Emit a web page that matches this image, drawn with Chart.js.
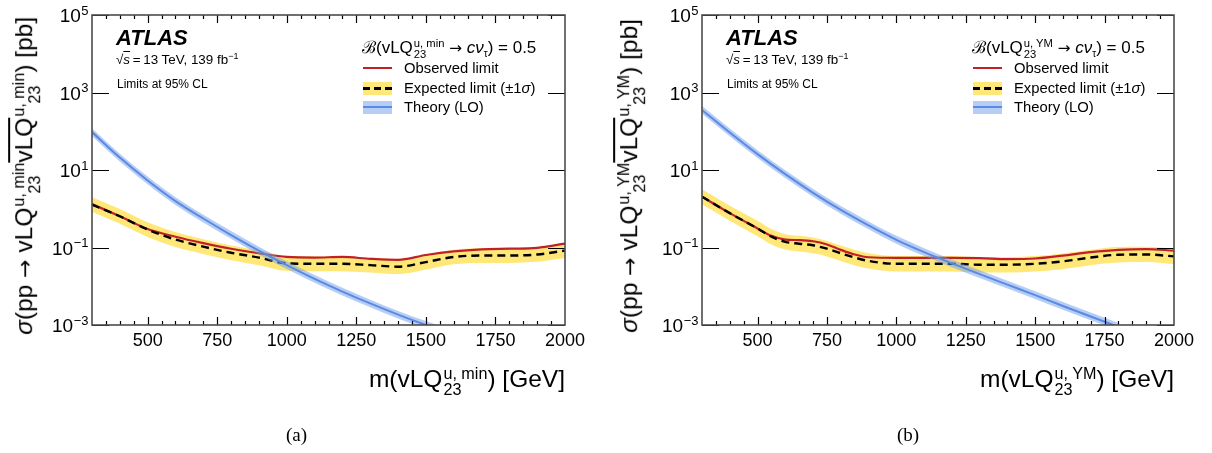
<!DOCTYPE html>
<html>
<head>
<meta charset="utf-8">
<script src="https://cdn.jsdelivr.net/npm/chart.js@4.4.1/dist/chart.umd.min.js"></script>
<style>
body { margin:0; width:1212px; height:453px; background:#fff; position:relative; overflow:hidden;
       font-family:"Liberation Sans", Arial, sans-serif; color:#000; }
canvas { position:absolute; top:0; }
.txt { position:absolute; white-space:nowrap; line-height:1; z-index:2; }
.atlas { font-size:22px; font-weight:bold; font-style:italic; }
.ss { display:inline-flex; flex-direction:column; font-size:0.66em; line-height:0.98; vertical-align:0.5em; margin-left:1px; }
.ov { text-decoration:overline; }
.arr { font-family:"DejaVu Sans", sans-serif; font-size:0.9em; }
.row { position:absolute; height:16px; display:flex; align-items:center; font-size:14.8px; white-space:nowrap; z-index:2; }
.sw { width:29px; height:13px; margin-right:12px; position:relative; }
.sw i { position:absolute; left:0; right:0; top:50%; }
.ytitle { position:absolute; width:340px; text-align:center; font-size:24.5px; line-height:26px; white-space:nowrap;
          transform:rotate(-90deg); z-index:2; }
.xtitle { position:absolute; font-size:24.5px; line-height:26px; white-space:nowrap; z-index:2; }
.cap { position:absolute; font-family:"Liberation Serif", "Times New Roman", serif; font-size:19px; z-index:2; }
</style>
</head>
<body>
<canvas id="chartA" width="600" height="453" style="left:0"></canvas>
<canvas id="chartB" width="606" height="453" style="left:606px"></canvas>

<!-- panel (a) labels -->
<div class="txt atlas" style="left:116px;top:27px">ATLAS</div>
<div class="txt" style="left:116px;top:52px;font-size:13.4px">√<span class="ov"><i>s</i></span>&thinsp;=&thinsp;13 TeV, 139 fb<sup style="font-size:9px">−1</sup></div>
<div class="txt" style="left:117px;top:78px;font-size:12px">Limits at 95% CL</div>
<div class="txt" style="left:362px;top:38px;font-size:17px">ℬ(vLQ<span class="ss"><span>u, min</span><span>23</span></span> <span class="arr">→</span> <i>cν</i><sub style="font-size:10px">τ</sub>) = 0.5</div>
<div class="row" style="left:363px;top:60px"><div class="sw"><i style="height:2px;margin-top:-1px;background:rgb(192,32,38)"></i></div>Observed limit</div>
<div class="row" style="left:363px;top:80px"><div class="sw" style="background:rgb(255,231,120)"><i style="height:3px;margin-top:-1.5px;background:repeating-linear-gradient(90deg,#000 0 7px,transparent 7px 11px)"></i></div>Expected limit (±1<i>σ</i>)</div>
<div class="row" style="left:363px;top:99px"><div class="sw" style="background:rgba(110,155,235,0.5)"><i style="height:2px;margin-top:-1px;background:rgb(90,138,228)"></i></div>Theory (LO)</div>
<div class="ytitle" style="left:-143px;top:160px"><i>σ</i>(pp <span class="arr">→</span> vLQ<span class="ss"><span>u, min</span><span>23</span></span><span class="ov">vLQ</span><span class="ss"><span>u, min</span><span>23</span></span>) [pb]</div>
<div class="xtitle" style="right:647px;top:366px">m(vLQ<span class="ss"><span>u, min</span><span>23</span></span>) [GeV]</div>
<div class="cap" style="left:286px;top:424px">(a)</div>

<!-- panel (b) labels -->
<div class="txt atlas" style="left:726px;top:27px">ATLAS</div>
<div class="txt" style="left:726px;top:52px;font-size:13.4px">√<span class="ov"><i>s</i></span>&thinsp;=&thinsp;13 TeV, 139 fb<sup style="font-size:9px">−1</sup></div>
<div class="txt" style="left:727px;top:78px;font-size:12px">Limits at 95% CL</div>
<div class="txt" style="left:972px;top:38px;font-size:17px">ℬ(vLQ<span class="ss"><span>u, YM</span><span>23</span></span> <span class="arr">→</span> <i>cν</i><sub style="font-size:10px">τ</sub>) = 0.5</div>
<div class="row" style="left:973px;top:60px"><div class="sw"><i style="height:2px;margin-top:-1px;background:rgb(192,32,38)"></i></div>Observed limit</div>
<div class="row" style="left:973px;top:80px"><div class="sw" style="background:rgb(255,231,120)"><i style="height:3px;margin-top:-1.5px;background:repeating-linear-gradient(90deg,#000 0 7px,transparent 7px 11px)"></i></div>Expected limit (±1<i>σ</i>)</div>
<div class="row" style="left:973px;top:99px"><div class="sw" style="background:rgba(110,155,235,0.5)"><i style="height:2px;margin-top:-1px;background:rgb(90,138,228)"></i></div>Theory (LO)</div>
<div class="ytitle" style="left:462px;top:160px"><i>σ</i>(pp <span class="arr">→</span> vLQ<span class="ss"><span>u, YM</span><span>23</span></span><span class="ov">vLQ</span><span class="ss"><span>u, YM</span><span>23</span></span>) [pb]</div>
<div class="xtitle" style="right:38px;top:366px">m(vLQ<span class="ss"><span>u, YM</span><span>23</span></span>) [GeV]</div>
<div class="cap" style="left:897px;top:424px">(b)</div>

<script>
// ---- panel (a): vLQ u,min ----
const massA = [300, 400, 500, 600, 700, 800, 900, 1000, 1100, 1200, 1300, 1400, 1500, 1600, 1700, 1800, 1900, 2000]
const obsA = [1.32, 0.64, 0.30, 0.19, 0.13, 0.093, 0.071, 0.057, 0.055, 0.057, 0.051, 0.048, 0.064, 0.079, 0.089, 0.093, 0.098, 0.126]
const expA = [1.27, 0.64, 0.29, 0.16, 0.105, 0.073, 0.055, 0.039, 0.038, 0.038, 0.035, 0.032, 0.042, 0.057, 0.062, 0.062, 0.066, 0.083]
const expUpA = [1.97, 0.99, 0.45, 0.25, 0.163, 0.113, 0.085, 0.060, 0.059, 0.059, 0.054, 0.050, 0.065, 0.088, 0.096, 0.096, 0.102, 0.129]
const expDnA = [0.82, 0.41, 0.187, 0.103, 0.068, 0.047, 0.035, 0.025, 0.0245, 0.0245, 0.0226, 0.0206, 0.027, 0.037, 0.040, 0.040, 0.0426, 0.0535]
const massThA = [300, 400, 500, 600, 700, 800, 900, 1000, 1100, 1200, 1300, 1400, 1500, 1600]
const theoryA = [95.5, 20.9, 5.37, 1.58, 0.56, 0.21, 0.083, 0.035, 0.0155, 0.0073, 0.0036, 0.00185, 0.001, 0.00057]
const theoryUpA = [120, 26.3, 6.77, 1.99, 0.705, 0.265, 0.105, 0.044, 0.0195, 0.0092, 0.0045, 0.0023, 0.00126, 0.00072]
const theoryDnA = [75.8, 16.6, 4.26, 1.25, 0.444, 0.167, 0.066, 0.0278, 0.0123, 0.0058, 0.00286, 0.00147, 0.00079, 0.00045]

// ---- panel (b): vLQ u,YM ----
const massB = [300, 400, 500, 550, 600, 650, 700, 750, 800, 850, 900, 1000, 1100, 1200, 1300, 1400, 1500, 1600, 1700, 1800, 1900, 2000]
const obsB = [2.05, 0.77, 0.31, 0.20, 0.16, 0.155, 0.145, 0.12, 0.087, 0.066, 0.056, 0.054, 0.054, 0.054, 0.053, 0.050, 0.052, 0.062, 0.076, 0.087, 0.091, 0.083]
const expB = [2.05, 0.77, 0.31, 0.19, 0.14, 0.125, 0.114, 0.093, 0.071, 0.055, 0.045, 0.038, 0.038, 0.038, 0.036, 0.036, 0.038, 0.044, 0.055, 0.065, 0.066, 0.059]
const expUpB = [3.2, 1.2, 0.49, 0.30, 0.22, 0.20, 0.18, 0.147, 0.112, 0.087, 0.071, 0.060, 0.060, 0.060, 0.057, 0.057, 0.060, 0.070, 0.087, 0.103, 0.104, 0.093]
const expDnB = [1.3, 0.49, 0.196, 0.12, 0.089, 0.079, 0.072, 0.059, 0.045, 0.035, 0.0285, 0.024, 0.024, 0.024, 0.0228, 0.0228, 0.024, 0.028, 0.035, 0.041, 0.042, 0.037]
const massThB = [300, 400, 500, 600, 700, 800, 900, 1000, 1100, 1200, 1300, 1400, 1500, 1600, 1700, 1800]
const theoryB = [355, 93, 25.7, 7.8, 2.57, 0.93, 0.37, 0.158, 0.076, 0.039, 0.0205, 0.011, 0.0059, 0.0031, 0.00166, 0.00089]
const theoryUpB = [447, 117, 32.4, 9.8, 3.24, 1.17, 0.47, 0.20, 0.096, 0.049, 0.0258, 0.0139, 0.0074, 0.0039, 0.0021, 0.00112]
const theoryDnB = [282, 74, 20.4, 6.2, 2.04, 0.74, 0.294, 0.125, 0.060, 0.031, 0.0163, 0.0087, 0.0047, 0.00246, 0.00132, 0.00071]

// axis ticks
const massTicks = [500, 750, 1000, 1250, 1500, 1750, 2000]
const xsecTicks = [1e-3, 1e-1, 1e1, 1e3, 1e5]
const xsecExp = ['−3', '−1', '1', '3', '5']

const FONT = '"Liberation Sans", Arial, sans-serif'

function pts(xs, ys) {
    return xs.map(function(x, i) { return {x: x, y: ys[i]} })
}

// frame, inward ticks and tick labels, ROOT style
const atlasAxes = {
    id: 'atlasAxes',
    afterDatasetsDraw(chart) {
        const ctx = chart.ctx
        const a = chart.chartArea
        const x = chart.scales.x
        const y = chart.scales.y
        ctx.save()
        ctx.strokeStyle = '#000'
        ctx.lineWidth = 1.2
        ctx.beginPath()
        for (let m = 350; m < 2000; m += 50) {
            const px = Math.round(x.getPixelForValue(m)) + 0.5
            const len = massTicks.includes(m) ? 8 : 4
            ctx.moveTo(px, a.bottom); ctx.lineTo(px, a.bottom - len)
            ctx.moveTo(px, a.top); ctx.lineTo(px, a.top + len)
        }
        xsecTicks.forEach(function(v) {
            const py = Math.round(y.getPixelForValue(v)) + 0.5
            ctx.moveTo(a.left, py); ctx.lineTo(a.left + 17, py)
            ctx.moveTo(a.right, py); ctx.lineTo(a.right - 17, py)
        })
        ctx.stroke()

        ctx.strokeStyle = '#4d4d4d'
        ctx.lineWidth = 1.6
        ctx.strokeRect(a.left, a.top, a.right - a.left, a.bottom - a.top)

        ctx.fillStyle = '#000'
        ctx.font = '18px ' + FONT
        ctx.textAlign = 'center'
        ctx.textBaseline = 'alphabetic'
        massTicks.forEach(function(m) {
            ctx.fillText(String(m), x.getPixelForValue(m), a.bottom + 21)
        })

        ctx.textAlign = 'left'
        xsecTicks.forEach(function(v, i) {
            const py = y.getPixelForValue(v)
            ctx.font = '13px ' + FONT
            const we = ctx.measureText(xsecExp[i]).width
            ctx.font = '19px ' + FONT
            const wb = ctx.measureText('10').width
            const x0 = a.left - 4 - we - wb
            ctx.fillText('10', x0, py + 7)
            ctx.font = '13px ' + FONT
            ctx.fillText(xsecExp[i], x0 + wb + 0.5, py - 0.5)
        })
        ctx.restore()
    }
}

function makeChart(id, pad, mass, obs, exp, expUp, expDn, massTh, th, thUp, thDn) {
    const ctx = document.getElementById(id).getContext('2d')
    return new Chart(ctx, {
        type: 'line',
        data: {
            datasets: [{
                // theory central line
                data: pts(massTh, th),
                borderColor: 'rgb(90,138,228)',
                borderWidth: 2,
                order: 0
            }, {
                data: pts(massTh, thDn),
                borderWidth: 0,
                order: 2
            }, {
                data: pts(massTh, thUp),
                borderWidth: 0,
                backgroundColor: 'rgba(110,155,235,0.5)',
                fill: '-1',
                order: 1
            }, {
                // expected limit
                data: pts(mass, exp),
                borderColor: '#000',
                borderWidth: 2.4,
                borderDash: [8, 5],
                order: 3
            }, {
                // observed limit
                data: pts(mass, obs),
                borderColor: 'rgb(192,32,38)',
                borderWidth: 2.2,
                order: 4
            }, {
                data: pts(mass, expDn),
                borderWidth: 0,
                order: 6
            }, {
                data: pts(mass, expUp),
                borderWidth: 0,
                backgroundColor: 'rgb(255,231,120)',
                fill: '-1',
                order: 5
            }]
        },
        options: {
            responsive: false,
            animation: false,
            devicePixelRatio: 1,
            layout: { padding: pad },
            elements: {
                point: { radius: 0 },
                line: { cubicInterpolationMode: 'monotone', fill: false }
            },
            scales: {
                x: { type: 'linear', min: 300, max: 2000, display: false },
                y: { type: 'logarithmic', min: 1e-3, max: 1e5, display: false }
            },
            plugins: {
                legend: { display: false },
                tooltip: { enabled: false }
            }
        },
        plugins: [atlasAxes]
    })
}

makeChart('chartA', {left: 92, right: 35, top: 15, bottom: 128},
    massA, obsA, expA, expUpA, expDnA, massThA, theoryA, theoryUpA, theoryDnA)
makeChart('chartB', {left: 96, right: 38, top: 15, bottom: 128},
    massB, obsB, expB, expUpB, expDnB, massThB, theoryB, theoryUpB, theoryDnB)
</script>
</body>
</html>
